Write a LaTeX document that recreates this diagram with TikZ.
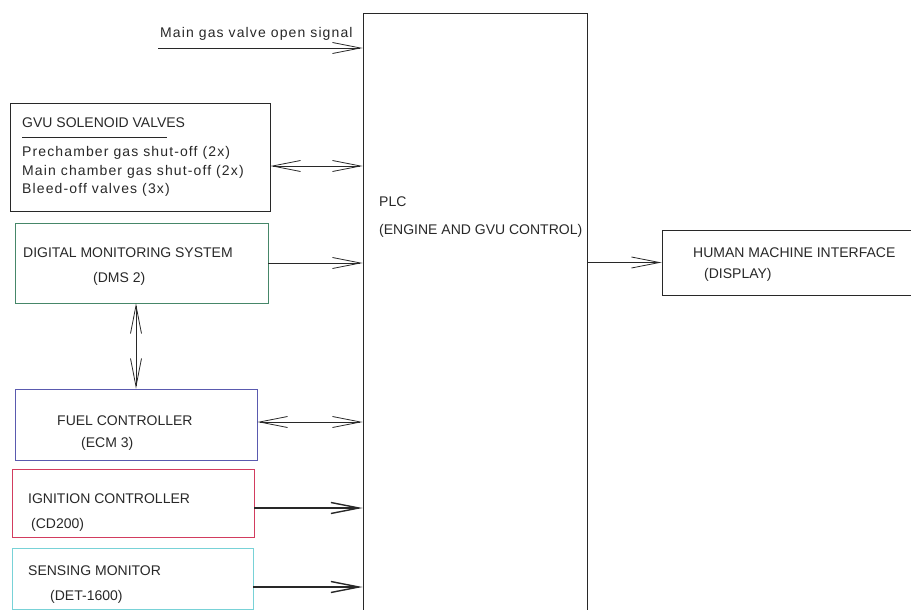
\documentclass[tikz,border=0pt]{standalone}
\usepackage{fontspec}
\setmainfont{Liberation Sans}
\newfontfamily\widefont{Liberation Sans}[LetterSpace=8]
\usetikzlibrary{arrows.meta}
\definecolor{cadgray}{RGB}{40, 40, 40}
\definecolor{dmsgreen}{RGB}{70, 135, 105}
\definecolor{ecmblue}{RGB}{90, 90, 175}
\definecolor{ignred}{RGB}{210, 60, 95}
\definecolor{senscyan}{RGB}{120, 210, 215}

\begin{document}
\begin{tikzpicture}[x=1pt, y=-1pt,
        blk/.style={draw=cadgray, line width=0.9pt, inner sep=0pt},
        txt/.style={anchor=base west, inner sep=0pt, text=cadgray,
                    font=\fontsize{14}{16}\selectfont},
        wtxt/.style={txt, font=\fontsize{14}{16}\widefont},
        sig/.style={-{Straight Barb[length=28pt, width=11pt]},
                    line width=0.8pt, cadgray},
        dsig/.style={{Straight Barb[length=28pt, width=11pt]}-{Straight Barb[length=28pt, width=11pt]},
                    line width=0.8pt, cadgray},
        bold/.style={line width=1.4pt}
    ]
    \useasboundingbox (0,0) rectangle (911,610);
    \clip (0,0) rectangle (911,610);

    % Controller in the middle
    \node[blk, minimum width=224pt, minimum height=612pt] (plc) at (475, 319) {};
    \node[txt] (plctitle) at (379, 206) {PLC};
    \node[txt] (plcsub)   at (379, 234) {(ENGINE AND GVU CONTROL)};

    % Left column -- field devices
    \node[blk, minimum width=260pt, minimum height=108pt] (gvu) at (140, 157) {};
    \node[blk, draw=dmsgreen, minimum width=253pt, minimum height=80pt] (dms) at (141.5, 263) {};
    \node[blk, draw=ecmblue, minimum width=242pt, minimum height=71pt] (fuel) at (136, 424.5) {};
    \node[blk, draw=ignred, minimum width=242pt, minimum height=68pt] (ign) at (133, 503) {};
    \node[blk, draw=senscyan, minimum width=241pt, minimum height=61pt] (sens) at (132.5, 578.5) {};

    \node[txt] (gvutitle) at (22, 128) {GVU SOLENOID VALVES};
    \draw[cadgray, line width=0.8pt] (22, 137) -- (167, 137);
    \node[wtxt] (gvua) at (22, 157) {Prechamber gas shut-off (2x)};
    \node[wtxt] (gvub) at (22, 175) {Main chamber gas shut-off (2x)};
    \node[wtxt] (gvuc) at (22, 193) {Bleed-off valves (3x)};

    \node[txt] (dmsa) at (23, 257) {DIGITAL MONITORING SYSTEM};
    \node[txt] (dmsb) at (93, 282) {(DMS 2)};
    \node[txt] (fuela) at (57, 425) {FUEL CONTROLLER};
    \node[txt] (fuelb) at (81, 447) {(ECM 3)};
    \node[txt] (igna) at (28, 503) {IGNITION CONTROLLER};
    \node[txt] (ignb) at (31, 528) {(CD200)};
    \node[txt] (sensa) at (28, 575) {SENSING MONITOR};
    \node[txt] (sensb) at (50, 600) {(DET-1600)};

    % Right side -- display
    \node[blk, minimum width=263pt, minimum height=65pt] (hmi) at (793.5, 262.5) {};
    \node[txt] (hmia) at (693, 257) {HUMAN MACHINE INTERFACE};
    \node[txt] (hmib) at (704, 278) {(DISPLAY)};

    % Signals into the PLC
    \coordinate (sigstart) at (158, 48);
    \node[wtxt] (sigtext) at (160, 38) {Main gas valve open signal};
    \draw[sig] (sigstart) -- (sigstart -| plc.west);
    \draw[dsig] ([yshift=-9pt]gvu.east) -- ([yshift=-9pt]gvu.east -| plc.west);
    \draw[sig] (dms.east) -- (dms.east -| plc.west);
    \draw[dsig] (fuel.north |- dms.south) -- (fuel.north);
    \draw[dsig] ([yshift=2.5pt]fuel.east) -- ([yshift=2.5pt]fuel.east -| plc.west);
    \draw[sig, bold] ([yshift=-5pt]ign.east) -- ([yshift=-5pt]ign.east -| plc.west);
    \draw[sig, bold] ([yshift=-8.5pt]sens.east) -- ([yshift=-8.5pt]sens.east -| plc.west);
    \draw[sig] (plc.east |- hmi.west) -- (hmi.west);

\end{tikzpicture}
\end{document}
